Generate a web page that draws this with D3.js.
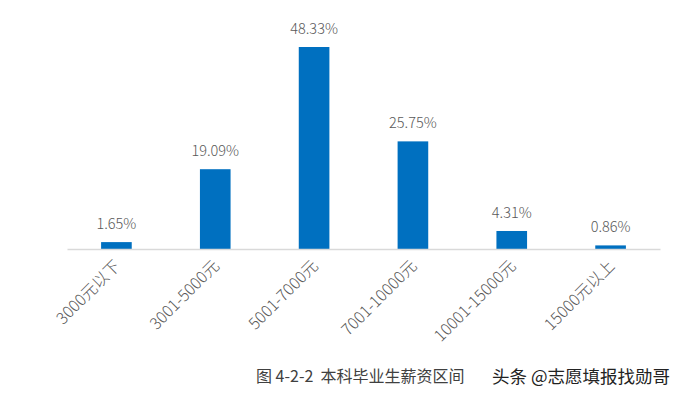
<!DOCTYPE html>
<html>
<head>
<meta charset="utf-8">
<script src="https://cdn.jsdelivr.net/npm/d3@7"></script>
<style>
  body { margin: 0; background: #fff; }
  svg { display: block; }
</style>
</head>
<body>
<script>
// salary ranges and share of graduates (%)
var categories = ["3000元以下", "3001-5000元", "5001-7000元", "7001-10000元", "10001-15000元", "15000元以上"];
var values = [1.65, 19.09, 48.33, 25.75, 4.31, 0.86];
var caption = "图 4-2-2  本科毕业生薪资区间";
var watermark = "头条 @志愿填报找勋哥";

var w = 681;
var h = 397;

var svg = d3.select("body")
            .append("svg")
            .attr("width", w)
            .attr("height", h);

var x = d3.scaleBand()
          .domain(categories)
          .range([67, 660])
          .paddingInner(0.69)
          .paddingOuter(0.345);

var y = d3.scaleLinear()
          .domain([0, 48.33])
          .range([249, 47]);

var font = "'Noto Sans CJK SC', sans-serif";

// bars
svg.selectAll("rect.bar")
   .data(values)
   .enter()
   .append("rect")
   .attr("class", "bar")
   .attr("x", function(d, i) { return x(categories[i]); })
   .attr("y", function(d) { return y(d); })
   .attr("width", x.bandwidth())
   .attr("height", function(d) { return y(0) - y(d); })
   .attr("fill", "#0070c0");

// value labels
svg.selectAll("text.val")
   .data(values)
   .enter()
   .append("text")
   .attr("class", "val")
   .attr("x", function(d, i) { return x(categories[i]) + x.bandwidth() / 2; })
   .attr("y", function(d) { return y(d) - 13; })
   .attr("text-anchor", "middle")
   .attr("font-family", font)
   .attr("font-size", 14.5)
   .attr("font-weight", 300)
   .attr("fill", "#595959")
   .text(function(d) { return d.toFixed(2) + "%"; });

// x axis
var axis = svg.append("g")
              .attr("transform", "translate(0," + y(0) + ")")
              .call(d3.axisBottom(x).tickSize(0).tickSizeOuter(0));

axis.select(".domain").attr("stroke", "#d9d9d9").attr("stroke-width", 1.3);

axis.selectAll(".tick text")
    .attr("font-family", font)
    .attr("font-size", 16)
    .attr("font-weight", 300)
    .attr("fill", "#595959")
    .attr("text-anchor", "end")
    .attr("dy", "0.35em")
    .attr("transform", "translate(1,14) rotate(-45)")
    .attr("y", 0)
    .attr("x", 0);

// caption
svg.append("text")
   .attr("x", 256)
   .attr("y", 382)
   .attr("font-family", font)
   .attr("font-size", 16)
   .attr("fill", "#404040")
   .style("white-space", "pre")
   .text(caption);

svg.append("text")
   .attr("x", 492)
   .attr("y", 383)
   .attr("font-family", font)
   .attr("font-size", 17.5)
   .attr("fill", "#222")
   .text(watermark);
</script>
</body>
</html>
